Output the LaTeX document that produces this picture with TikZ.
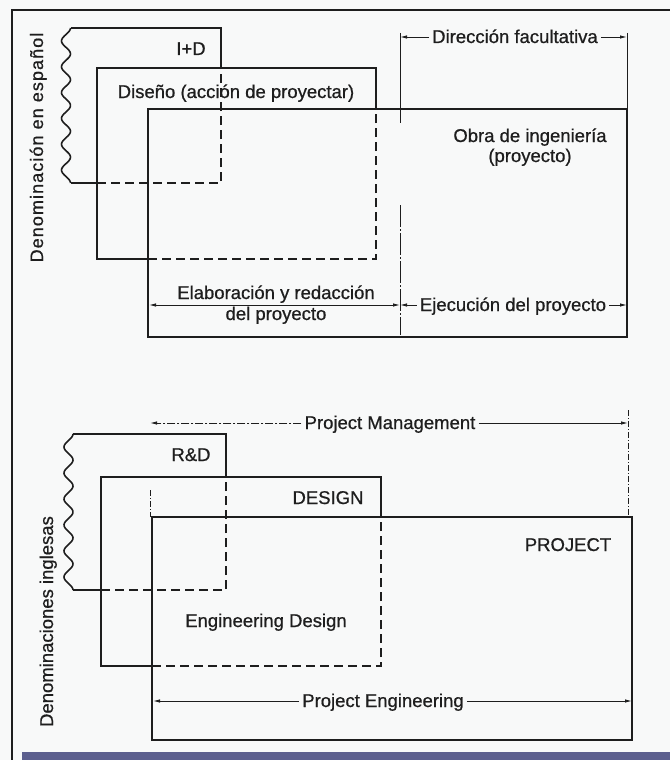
\documentclass[tikz,border=0pt]{standalone}
\usepackage{fontspec}
\setmainfont{Liberation Sans}
\newfontfamily\lblfont{Liberation Sans}[FakeBold=0.7]
\usetikzlibrary{arrows.meta}
\definecolor{ink}{HTML}{1E1E1E}
\definecolor{paper}{HTML}{F8F9F9}
\definecolor{barc}{HTML}{5C5F8E}
\begin{document}
\begin{tikzpicture}[x=1pt,y=-1pt,
  box/.style={draw=ink, line width=1.6pt},
  dsh/.style={draw=ink, line width=1.6pt, dash pattern=on 9pt off 5pt},
  thinl/.style={draw=ink, line width=0.9pt},
  arr/.style={thinl, -{Latex[length=7pt,width=3.5pt]}},
  darr/.style={thinl, {Latex[length=7pt,width=3.5pt]}-{Latex[length=7pt,width=3.5pt]}},
  lbl/.style={font=\lblfont\fontsize{18.5}{20}\selectfont, text=ink, inner sep=3pt, anchor=base},
]
\useasboundingbox (0,0) rectangle (670,760);
\fill[paper] (0,0) rectangle (670,760);
% frame
\draw[ink, line width=2.2pt] (12,760) -- (12,10) -- (670,10);
\fill[barc] (22,752) rectangle (670,760);

% ---------------- upper diagram ----------------
% I+D
\draw[box] (221,68) -- (221,28) -- (70.5,28);
\draw[box] plot[smooth, samples=120, domain=0:155] ({66+4.5*cos(\x/25.833*360)}, {28+\x});
\draw[box] (70.5,183) -- (97,183);
\draw[dsh] (97,183) -- (221,183) -- (221,68);
% Diseno
\draw[box] (376,109) -- (376,68) -- (97,68) -- (97,259) -- (148,259);
\draw[dsh] (148,259) -- (376,259) -- (376,109);
% Obra
\draw[box] (148,109) rectangle (627,337);
% direccion vertical lines
\draw[thinl] (400,33) -- (400,123);
\draw[thinl, dash pattern=on 22pt off 2pt on 2pt off 2pt] (400,205) -- (400,335);
\draw[thinl] (627,33) -- (627,109);

\node[lbl] (id) at (191,55) {I+D};
\node[lbl] (dis) at (236,98) {Diseño (acción de proyectar)};
\node[lbl] (obra) at (530,142) {Obra de ingeniería};
\node[lbl] (obra2) at (530,162) {(proyecto)};
\node[lbl] (dir) at (515,43) {Dirección facultativa};
\coordinate (dirL) at (400,37);
\coordinate (dirR) at (627,37);
\draw[arr] (dir.west |- dirL) -- (dirL);
\draw[arr] (dir.east |- dirR) -- (dirR);

\coordinate (eL) at (149,305);
\coordinate (eM) at (400,305);
\coordinate (eR) at (627,305);
\draw[darr] (eL) -- (eM);
\node[lbl] (ela1) at (276,299) {Elaboración y redacción};
\node[lbl] (ela2) at (276,320) {del proyecto};
\node[lbl] (eje) at (513,311) {Ejecución del proyecto};
\draw[arr] (eje.west |- eM) -- (eM);
\draw[arr] (eje.east |- eR) -- (eR);

\node[lbl, rotate=90, font=\lblfont\fontsize{18}{20}\selectfont\addfontfeature{LetterSpace=6}] (esp) at (43,147.5) {Denominación en español};

% ---------------- lower diagram ----------------
% R&D
\draw[box] (226,477) -- (226,434) -- (73,434);
\draw[box] plot[smooth, samples=120, domain=0:156] ({68.5+4.5*cos(\x/26*360)}, {434+\x});
\draw[box] (73,590) -- (101,590);
\draw[dsh] (101,590) -- (226,590) -- (226,477);
% DESIGN
\draw[box] (381,517) -- (381,477) -- (101,477) -- (101,666) -- (152,666);
\draw[dsh] (152,666) -- (381,666) -- (381,517);
% PROJECT
\draw[box] (152,517) rectangle (632,740);
% management extension lines
\draw[thinl, dash pattern=on 6pt off 2pt on 1pt off 2pt] (150,490) -- (150,517);
\draw[thinl, dash pattern=on 6pt off 2pt on 1pt off 2pt] (628,410) -- (628,517);

\node[lbl] (rd) at (191,461) {R\&D};
\node[lbl] (des) at (328,504) {DESIGN};
\node[lbl] (proj) at (568,551) {PROJECT};
\node[lbl] (engd) at (266,627) {Engineering Design};

\node[lbl] (pm) at (390,429) {Project Management};
\coordinate (pmL) at (150,423);
\coordinate (pmR) at (628,423);
\draw[arr, dash pattern=on 8pt off 2pt on 2pt off 2pt] (pm.west |- pmL) -- (pmL);
\draw[arr] (pm.east |- pmR) -- (pmR);

\node[lbl] (pe) at (383,707) {Project Engineering};
\coordinate (peL) at (153,701);
\coordinate (peR) at (632,701);
\draw[arr] (pe.west |- peL) -- (peL);
\draw[arr] (pe.east |- peR) -- (peR);

\node[lbl, rotate=90] (ing) at (53,621.5) {Denominaciones inglesas};
\end{tikzpicture}
\end{document}
